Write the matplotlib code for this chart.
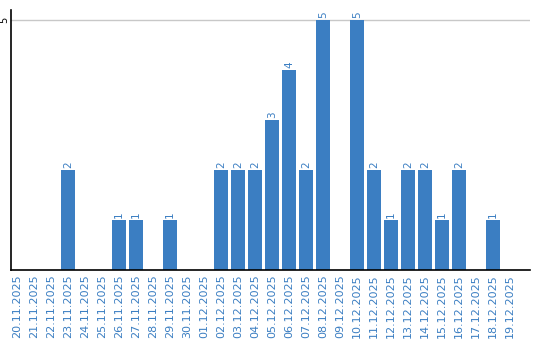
import matplotlib
matplotlib.use("Agg")
import matplotlib.pyplot as plt
import numpy as np

dates = ["20.11.2025", "21.11.2025", "22.11.2025", "23.11.2025", "24.11.2025",
         "25.11.2025", "26.11.2025", "27.11.2025", "28.11.2025", "29.11.2025",
         "30.11.2025", "01.12.2025", "02.12.2025", "03.12.2025", "04.12.2025",
         "05.12.2025", "06.12.2025", "07.12.2025", "08.12.2025", "09.12.2025",
         "10.12.2025", "11.12.2025", "12.12.2025", "13.12.2025", "14.12.2025",
         "15.12.2025", "16.12.2025", "17.12.2025", "18.12.2025", "19.12.2025"]
values = [0, 0, 0, 2, 0, 0, 1, 1, 0, 1, 0, 0, 2, 2, 2, 3, 4, 2, 5, 0,
          5, 2, 1, 2, 2, 1, 2, 0, 1, 0]

blue = "#3b7ec2"

fig = plt.figure(figsize=(5.4, 3.4), dpi=100)
ax = fig.add_axes([11/540, 1 - 270/340, 519/540, 260/340])

x = np.arange(len(dates))
ax.bar(x, values, width=0.82, color=blue, zorder=2)
for xi, v in zip(x, values):
    if v > 0:
        ax.text(xi, v + 0.04, str(v), rotation=90, ha="center", va="bottom",
                color=blue, fontsize=7.5)

ax.set_xlim(-0.353, 30.18)
ax.set_ylim(0, 5.2)
ax.set_yticks([5])
ax.set_yticklabels(["5"], rotation=90, va="center", fontsize=7)
ax.tick_params(axis="y", length=0, pad=1)
ax.yaxis.grid(True, color="#c8c8c8", linewidth=1, zorder=0)
ax.set_xticks(x)
ax.set_xticklabels(dates, rotation=90, color=blue, fontsize=8, va="top")
ax.tick_params(axis="x", length=0, pad=3)
for s in ["top", "right"]:
    ax.spines[s].set_visible(False)
for s in ["left", "bottom"]:
    ax.spines[s].set_color("black")
    ax.spines[s].set_linewidth(1.2)

fig.savefig("out.png", dpi=100)
